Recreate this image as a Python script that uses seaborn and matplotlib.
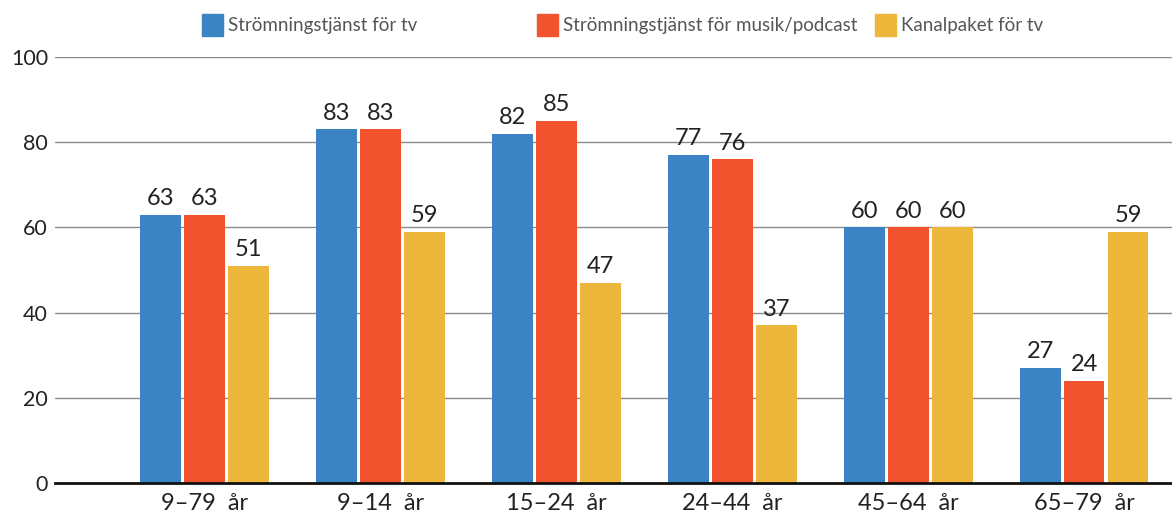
import matplotlib
matplotlib.use("Agg")
import matplotlib.pyplot as plt
import matplotlib.patches as mpatches
import seaborn as sns
import pandas as pd

categories = ["9–79  år", "9–14  år", "15–24  år", "24–44  år", "45–64  år", "65–79  år"]
series_names = ["Strömningstjänst för tv", "Strömningstjänst för musik/podcast", "Kanalpaket för tv"]
tv_streaming = [63, 83, 82, 77, 60, 27]
music_streaming = [63, 83, 85, 76, 60, 24]
channel_package = [51, 59, 47, 37, 60, 59]
y_ticks = [0, 20, 40, 60, 80, 100]
colors = ["#3A84C4", "#F0532D", "#ECB73A"]

df = pd.DataFrame({
    "Ålder": categories * 3,
    "Tjänst": [series_names[0]] * 6 + [series_names[1]] * 6 + [series_names[2]] * 6,
    "Andel": tv_streaming + music_streaming + channel_package,
})

sns.set_theme(style="white")
plt.rcParams["font.family"] = ["Lato", "DejaVu Sans"]

fig = plt.figure(figsize=(11.72, 5.16), dpi=100)
ax = fig.add_axes([55 / 1172, 1 - 483 / 516, 1 - 55 / 1172, (483 - 57) / 516])

sns.barplot(data=df, x="Ålder", y="Andel", hue="Tjänst", palette=colors,
            width=0.75, gap=0.07, saturation=1, linewidth=0, ax=ax, legend=False)

for container in ax.containers:
    ax.bar_label(container, fmt="%d", padding=4, fontsize=17, color="#222222")

ax.set_ylim(0, 100)
ax.set_xlim(-0.85, 5.5)
ax.set_yticks(y_ticks)
ax.set_yticklabels([str(t) for t in y_ticks], fontsize=15.5, color="#222222")
ax.tick_params(axis="x", labelsize=17, colors="#222222", length=0, pad=7)
ax.tick_params(axis="y", length=0, pad=5)
ax.set_xlabel("")
ax.set_ylabel("")
ax.yaxis.grid(True, color="#8a8a8a", linewidth=1)
ax.set_axisbelow(True)
for side in ["top", "right", "left"]:
    ax.spines[side].set_visible(False)
ax.spines["bottom"].set_color("#111111")
ax.spines["bottom"].set_linewidth(2)

# legend entries at fixed positions along the top
legend_x = [202, 537, 875]
for name, col, x in zip(series_names, colors, legend_x):
    handle = mpatches.Patch(color=col, label=name)
    fig.legend(handles=[handle], loc="center left",
               bbox_to_anchor=(x / 1172, 1 - 25 / 516), frameon=False,
               fontsize=13.5, labelcolor="#555555", handlelength=1.1,
               handleheight=1.4, handletextpad=0.3, borderaxespad=0,
               borderpad=0)

fig.savefig("out.png", dpi=100)
